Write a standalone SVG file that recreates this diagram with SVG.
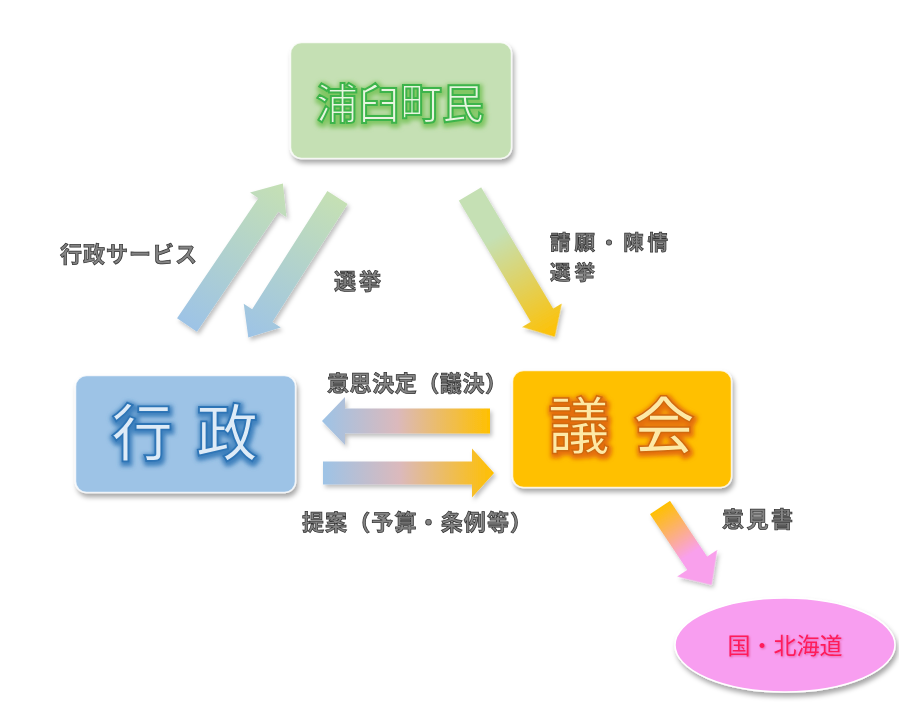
<svg xmlns="http://www.w3.org/2000/svg" width="899" height="704" viewBox="0 0 899 704">
<defs>
<style>
.lbl{font-family:"Noto Sans CJK JP","Noto Sans CJK SC",sans-serif;font-size:22px;font-weight:bold;fill:#858585;stroke:#333;stroke-width:0.75px}
.big{font-family:"Noto Sans CJK JP","Noto Sans CJK SC",sans-serif;text-anchor:middle;font-weight:500}
.box{stroke:#ffffff;stroke-width:1.5;stroke-opacity:0.8}
</style>
<filter id="sh" x="-10%" y="-10%" width="130%" height="140%">
<feDropShadow dx="2" dy="4" stdDeviation="2.5" flood-color="#000" flood-opacity="0.35"/>
</filter>
<filter id="ash" x="-20%" y="-20%" width="140%" height="140%">
<feDropShadow dx="2" dy="3" stdDeviation="2" flood-color="#000" flood-opacity="0.25"/>
</filter>
<filter id="glowG" x="-20%" y="-30%" width="140%" height="160%">
<feMorphology in="SourceAlpha" operator="dilate" radius="1.5" result="d"/>
<feGaussianBlur in="d" stdDeviation="2" result="b"/>
<feFlood flood-color="#70c050" flood-opacity="0.8"/>
<feComposite in2="b" operator="in" result="g"/>
<feOffset in="g" dx="1" dy="2" result="go"/>
<feMerge><feMergeNode in="go"/><feMergeNode in="SourceGraphic"/></feMerge>
</filter>
<filter id="glowB" x="-20%" y="-30%" width="140%" height="160%">
<feMorphology in="SourceAlpha" operator="dilate" radius="1.5" result="d"/>
<feGaussianBlur in="d" stdDeviation="2" result="b"/>
<feFlood flood-color="#2e75b6" flood-opacity="0.85"/>
<feComposite in2="b" operator="in" result="g"/>
<feOffset in="g" dx="1" dy="2" result="go"/>
<feMerge><feMergeNode in="go"/><feMergeNode in="SourceGraphic"/></feMerge>
</filter>
<filter id="glowO" x="-20%" y="-30%" width="140%" height="160%">
<feMorphology in="SourceAlpha" operator="dilate" radius="1.5" result="d"/>
<feGaussianBlur in="d" stdDeviation="2" result="b"/>
<feFlood flood-color="#e06010" flood-opacity="0.85"/>
<feComposite in2="b" operator="in" result="g"/>
<feOffset in="g" dx="1" dy="2" result="go"/>
<feMerge><feMergeNode in="go"/><feMergeNode in="SourceGraphic"/></feMerge>
</filter>
<filter id="glowP" x="-20%" y="-30%" width="140%" height="160%">
<feGaussianBlur in="SourceAlpha" stdDeviation="1.2" result="b"/>
<feFlood flood-color="#c00040" flood-opacity="0.4"/>
<feComposite in2="b" operator="in" result="g"/>
<feOffset in="g" dx="1" dy="1" result="go"/>
<feMerge><feMergeNode in="go"/><feMergeNode in="SourceGraphic"/></feMerge>
</filter>
<linearGradient id="gBG" x1="0" y1="0" x2="1" y2="0"><stop offset="0" stop-color="#9dc3e6"/><stop offset="1" stop-color="#c5e0b4"/></linearGradient>
<linearGradient id="gGB" x1="0" y1="0" x2="1" y2="0"><stop offset="0" stop-color="#c5e0b4"/><stop offset="1" stop-color="#9dc3e6"/></linearGradient>
<linearGradient id="gGO" x1="0" y1="0" x2="1" y2="0"><stop offset="0" stop-color="#c5e0b4"/><stop offset="0.3" stop-color="#c5e0b4"/><stop offset="1" stop-color="#ffc000"/></linearGradient>
<linearGradient id="gBO" x1="0" y1="0" x2="1" y2="0"><stop offset="0" stop-color="#9dc3e6"/><stop offset="0.45" stop-color="#dbb9bc"/><stop offset="1" stop-color="#ffc000"/></linearGradient>
<linearGradient id="gOB" x1="0" y1="0" x2="1" y2="0"><stop offset="0" stop-color="#ffc000"/><stop offset="0.55" stop-color="#dbb9bc"/><stop offset="1" stop-color="#9dc3e6"/></linearGradient>
<linearGradient id="gOP" x1="0" y1="0" x2="1" y2="0"><stop offset="0" stop-color="#ffc000"/><stop offset="0.6" stop-color="#f9a0ec"/><stop offset="1" stop-color="#f9a0ec"/></linearGradient>
</defs>
<rect width="899" height="704" fill="#ffffff"/>

<g id="connectors" filter="url(#ash)">
<path id="arrow-service" transform="translate(187,325) rotate(-55.9)" fill="url(#gBG)" d="M0,-12 L145,-12 L145,-22 L171,0 L145,22 L145,12 L0,12 Z"/>
<path id="arrow-election" transform="translate(337.5,197.5) rotate(122.5)" fill="url(#gGB)" d="M0,-12 L140,-12 L140,-22 L166,0 L140,22 L140,12 L0,12 Z"/>
<path id="arrow-petition" transform="translate(470,194) rotate(59.3)" fill="url(#gGO)" d="M0,-13 L141,-13 L141,-23 L166,0 L141,23 L141,13 L0,13 Z"/>
<path id="arrow-decision" transform="translate(490,421) rotate(180)" fill="url(#gOB)" d="M0,-12.5 L145,-12.5 L145,-24 L168,0 L145,24 L145,12.5 L0,12.5 Z"/>
<path id="arrow-proposal" transform="translate(323,473) rotate(0)" fill="url(#gBO)" d="M0,-11.5 L149,-11.5 L149,-24.5 L171,0 L149,24.5 L149,11.5 L0,11.5 Z"/>
<path id="arrow-opinion" transform="translate(660,507.5) rotate(56.3)" fill="url(#gOP)" d="M0,-12 L67,-12 L67,-24 L93,0 L67,24 L67,12 L0,12 Z"/>
</g>

<g id="labels">
<text class="lbl" x="60" y="262" textLength="137">行政サービス</text>
<text class="lbl" x="334" y="289" textLength="47">選挙</text>
<text class="lbl" x="550" y="250" textLength="118" style="font-size:20.5px">請願・陳情</text>
<text class="lbl" x="550" y="280" textLength="45" style="font-size:20.5px">選挙</text>
<text class="lbl" x="327" y="391" textLength="180">意思決定（議決）</text>
<text class="lbl" x="302" y="530" textLength="230">提案（予算・条例等）</text>
<text class="lbl" x="722" y="527" textLength="71">意見書</text>
</g>

<g id="node-citizens">
<rect class="box" x="290.5" y="42.5" width="221" height="116" rx="11" fill="#c5e0b4" filter="url(#sh)"/>
<text class="big" x="400" y="119" font-size="42" fill="#e8f5e0" stroke="#3cb44b" stroke-width="2" filter="url(#glowG)">浦臼町民</text>
</g>

<g id="node-administration">
<rect class="box" x="75.5" y="375.5" width="220" height="117" rx="11" fill="#9dc3e6" filter="url(#sh)"/>
<g class="big" font-size="62" fill="#deebf7" stroke="#2e75b6" stroke-width="1.8" filter="url(#glowB)">
<text x="142" y="456">行</text>
<text x="227" y="456">政</text>
</g>
</g>

<g id="node-council">
<rect class="box" x="512.5" y="370.5" width="219" height="117" rx="11" fill="#ffc000" filter="url(#sh)"/>
<g class="big" font-size="62" fill="#fde9a6" stroke="#d06a10" stroke-width="1.5" filter="url(#glowO)">
<text x="579" y="449">議</text>
<text x="664" y="449">会</text>
</g>
</g>

<g id="node-state">
<ellipse cx="785" cy="645" rx="110" ry="47" fill="#f89ef0" stroke="#ffffff" stroke-width="1.5" filter="url(#sh)"/>
<text class="big" x="785" y="654" font-size="23" style="font-weight:400" fill="#ff1a5a" filter="url(#glowP)">国・北海道</text>
</g>
</svg>
